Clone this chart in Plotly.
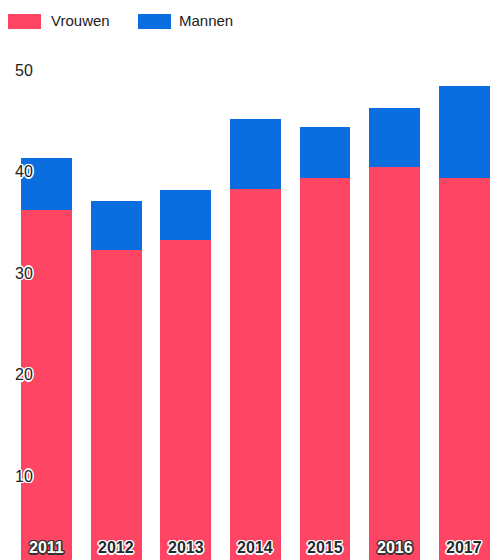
import plotly.graph_objects as go

years = ["2011", "2012", "2013", "2014", "2015", "2016", "2017"]
vrouwen = [36.2, 32.3, 33.3, 38.3, 39.4, 40.4, 39.4]
mannen = [5.1, 4.8, 4.9, 6.9, 5.0, 5.9, 9.0]
y_ticks = [10, 20, 30, 40, 50]
series_names = ["Vrouwen", "Mannen"]
colors = ["#ff4564", "#0a6ee0"]
# year label style as in the picture: white text on 2011 and 2016
year_text_white = [True, False, False, False, False, True, False]

W, H = 490, 560

fig = go.Figure()
fig.add_trace(go.Bar(x=years, y=vrouwen, name=series_names[0], marker_color=colors[0],
                     marker_line_width=0, showlegend=False))
fig.add_trace(go.Bar(x=years, y=mannen, name=series_names[1], marker_color=colors[1],
                     marker_line_width=0, showlegend=False))

halo_w = ("-1px -1px 0 #fff, 1px -1px 0 #fff, -1px 1px 0 #fff, 1px 1px 0 #fff, "
          "0 -1.5px 0 #fff, 0 1.5px 0 #fff, -1.5px 0 0 #fff, 1.5px 0 0 #fff")
halo_d = ("-1px -1px 0 #333, 1px -1px 0 #333, -1px 1px 0 #333, 1px 1px 0 #333, "
          "0 -1.5px 0 #333, 0 1.5px 0 #333, -1.5px 0 0 #333, 1.5px 0 0 #333")

# year labels inside bars at bottom
for i, (yr, white) in enumerate(zip(years, year_text_white)):
    fig.add_annotation(x=i, xref="x", y=13 / H, yref="paper", yanchor="middle",
                       text=yr, showarrow=False,
                       font=dict(family="Liberation Sans, Arial", size=16,
                                 color="#ffffff" if white else "#1f2a2e",
                                 weight="bold",
                                 shadow=halo_d if white else halo_w))

# custom legend
legend_x = [8, 138]
text_x = [49, 177]
for i in range(2):
    fig.add_shape(type="rect", xref="paper", yref="paper",
                  x0=legend_x[i] / W, x1=(legend_x[i] + 33) / W,
                  y0=1 - 29 / H, y1=1 - 14 / H,
                  fillcolor=colors[i], line=dict(width=0))
    fig.add_annotation(x=text_x[i] / W, xref="paper", y=1 - 21 / H, yref="paper",
                       xanchor="left", yanchor="middle", text=series_names[i],
                       showarrow=False,
                       font=dict(family="Liberation Sans, Arial", size=15, color="#222"))

fig.update_layout(
    barmode="stack",
    bargap=0.27,
    width=W, height=H,
    margin=dict(l=0, r=0, t=0, b=0),
    paper_bgcolor="white", plot_bgcolor="white",
    xaxis=dict(type="category", range=[-0.668, 6.372], showticklabels=False, showgrid=False,
               zeroline=False, showline=False),
    yaxis=dict(range=[1.72, 56.9], tickvals=y_ticks, ticktext=[str(v) for v in y_ticks],
               ticklabelposition="inside", ticklabelstandoff=12, showgrid=False,
               zeroline=False, showline=False, ticks="",
               tickfont=dict(family="Liberation Sans, Arial", size=16, color="#222",
                             shadow=halo_w)),
)

fig.write_html("out.html")
